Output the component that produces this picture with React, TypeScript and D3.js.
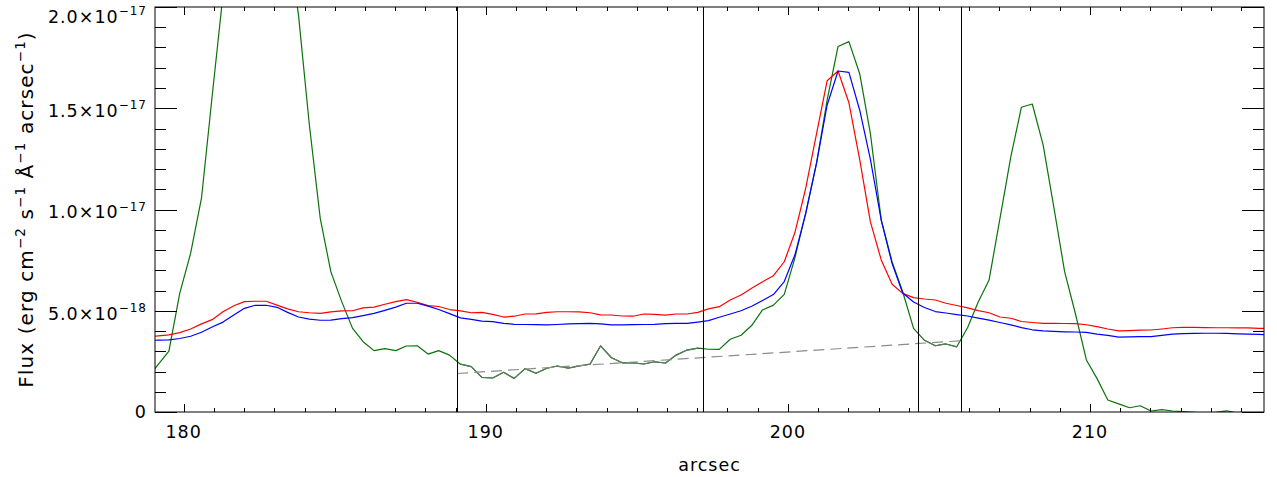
import React from 'react';
import * as d3 from 'd3';

// slit positions (arcsec) - common sampling for all three profiles
const xArcsec = [
  178.80, 179.16, 179.51, 179.87, 180.23, 180.59, 180.94, 181.30, 181.66, 182.01,
  182.37, 182.73, 183.09, 183.44, 183.80, 184.16, 184.52, 184.87, 185.23, 185.59,
  185.94, 186.30, 186.66, 187.02, 187.37, 187.73, 188.09, 188.44, 188.80, 189.16,
  189.52, 189.87, 190.23, 190.59, 190.94, 191.30, 191.66, 192.02, 192.37, 192.73,
  193.09, 193.45, 193.80, 194.16, 194.52, 194.87, 195.23, 195.59, 195.95, 196.30,
  196.66, 197.02, 197.37, 197.73, 198.09, 198.45, 198.80, 199.16, 199.52, 199.88,
  200.23, 200.59, 200.95, 201.30, 201.66, 202.02, 202.38, 202.73, 203.09, 203.45,
  203.80, 204.16, 204.52, 204.88, 205.23, 205.59, 205.95, 206.30, 206.66, 207.02,
  207.38, 207.73, 208.09, 208.45, 208.80, 209.16, 209.52, 209.88, 210.23, 210.59,
  210.95, 211.31, 211.66, 212.02, 212.38, 212.73, 213.09, 213.45, 213.81, 214.16,
  214.52, 214.88, 215.23, 215.59, 215.95,
];

// flux in units of 1e-18 erg cm^-2 s^-1 A^-1 arcsec^-1
const redFlux = [
  3.70, 3.76, 3.81, 3.92, 4.10, 4.35, 4.56, 4.95, 5.25, 5.45,
  5.47, 5.47, 5.28, 5.09, 4.95, 4.90, 4.87, 4.94, 4.99, 5.00,
  5.14, 5.18, 5.32, 5.45, 5.55, 5.42, 5.25, 5.21, 5.06, 4.99,
  4.90, 4.92, 4.82, 4.69, 4.73, 4.84, 4.85, 4.92, 4.95, 4.95,
  4.94, 4.90, 4.80, 4.79, 4.74, 4.73, 4.84, 4.82, 4.78, 4.84,
  4.84, 4.92, 5.09, 5.20, 5.53, 5.78, 6.11, 6.43, 6.73, 7.42,
  8.85, 11.05, 13.76, 16.36, 16.84, 15.27, 12.44, 9.40, 7.51, 6.31,
  5.86, 5.65, 5.58, 5.53, 5.37, 5.26, 5.14, 5.01, 4.90, 4.69,
  4.63, 4.47, 4.42, 4.38, 4.38, 4.37, 4.36, 4.31, 4.22, 4.10,
  4.01, 4.02, 4.04, 4.05, 4.10, 4.16, 4.18, 4.18, 4.17, 4.16,
  4.16, 4.15, 4.15, 4.13, 4.12,
];

const blueFlux = [
  3.53, 3.55, 3.56, 3.63, 3.74, 3.94, 4.20, 4.44, 4.79, 5.12,
  5.27, 5.27, 5.17, 4.92, 4.69, 4.59, 4.53, 4.54, 4.61, 4.66,
  4.76, 4.87, 5.02, 5.18, 5.37, 5.37, 5.23, 5.06, 4.86, 4.65,
  4.57, 4.49, 4.46, 4.38, 4.33, 4.32, 4.31, 4.30, 4.32, 4.35,
  4.36, 4.38, 4.35, 4.30, 4.30, 4.31, 4.32, 4.33, 4.36, 4.38,
  4.38, 4.44, 4.51, 4.68, 4.84, 5.00, 5.22, 5.51, 5.80, 6.44,
  7.75, 9.80, 12.30, 15.16, 16.84, 16.77, 14.89, 12.49, 9.48, 7.33,
  5.88, 5.43, 5.16, 4.96, 4.89, 4.81, 4.74, 4.64, 4.54, 4.42,
  4.30, 4.17, 4.06, 4.01, 3.98, 3.96, 3.95, 3.93, 3.85, 3.78,
  3.70, 3.71, 3.72, 3.72, 3.78, 3.85, 3.87, 3.88, 3.89, 3.89,
  3.88, 3.86, 3.85, 3.83, 3.81,
];

const greenFlux = [
  1.68, 2.35, 3.01, 5.87, 7.84, 10.57, 15.57, 20.6, 26.0, 31.0,
  34.0, 33.0, 29.0, 23.5, 19.6, 14.17, 9.56, 6.93, 5.45, 4.13,
  3.47, 3.03, 3.13, 3.03, 3.26, 3.27, 2.86, 3.03, 2.81, 2.36,
  2.24, 1.71, 1.68, 1.96, 1.66, 2.14, 1.91, 2.16, 2.27, 2.17,
  2.27, 2.36, 3.27, 2.68, 2.43, 2.43, 2.37, 2.48, 2.42, 2.81,
  3.06, 3.15, 3.10, 3.09, 3.59, 3.79, 4.27, 5.04, 5.28, 5.81,
  7.60, 9.83, 12.30, 15.41, 18.05, 18.29, 16.69, 13.76, 9.48, 7.41,
  5.94, 4.13, 3.54, 3.27, 3.36, 3.22, 4.17, 5.43, 6.52, 9.56,
  12.61, 15.05, 15.21, 13.18, 10.14, 6.93, 4.84, 2.57, 1.66, 0.59,
  0.40, 0.21, 0.31, 0.05, 0.12, 0.05, 0.02, -0.02, -0.05, -0.02,
  0.06, -0.05, -0.10, -0.05, -0.05,
];

// background windows (vertical markers) and linear background fit
const markerX = [189.05, 197.2, 204.31, 205.73];
const bgWindows = [[189.05, 197.2], [204.31, 205.73]];
const bgFitX = [189.05, 205.73];
const bgFitY = [1.90, 3.52];

const xDomain = [179.05, 215.76];
const yDomain = [0, 20];
const xMajor = [180, 190, 200, 210];
const yMajor = [0, 5, 10, 15, 20];

const W = 1277;
const H = 477;
const L = 155, R = 1264, T = 7, B = 412;
const FONT = '"DejaVu Sans", sans-serif';

const fmtY = (v: number): [string, string] => {
  if (v === 0) return ['0', ''];
  const val = v * 1e-18;
  const e = Math.floor(Math.log10(val));
  const m = val / Math.pow(10, e);
  return [m.toFixed(1) + '\u00d710', '\u2212' + Math.abs(e)];
};

export default function App() {
  const x = d3.scaleLinear().domain(xDomain).range([L, R]);
  const y = d3.scaleLinear().domain(yDomain).range([B, T]);

  const pts = (ys: number[]) => xArcsec.map((xv, i) => [xv, ys[i]] as [number, number]);
  const line = d3.line<[number, number]>().x(d => x(d[0])).y(d => y(d[1]));

  const xMinor = d3.range(Math.ceil(xDomain[0]), Math.floor(xDomain[1]) + 1).filter(v => v % 10 !== 0);
  const yMinor = d3.range(1, 20).filter(v => v % 5 !== 0);

  const greenPts = pts(greenFlux);
  const overlays = bgWindows.map(([a, b]) => greenPts.filter(p => p[0] >= a && p[0] <= b));

  const px = (v: number) => Math.round(v) + 0.5;
  const tickCol = '#000';

  return (
    <svg width={W} height={H} style={{ position: 'absolute', left: 0, top: 0, background: '#fff' }}
      fontFamily={FONT}>
      <defs>
        <clipPath id="plot">
          <rect x={L} y={T} width={R - L} height={B - T} />
        </clipPath>
      </defs>

      <g clipPath="url(#plot)" fill="none" strokeWidth={1.2} strokeLinejoin="round">
        <path d={line(greenPts) || ''} stroke="#0b720b" />
        <path d={line(pts(redFlux)) || ''} stroke="#ff0000" />
        <path d={line(pts(blueFlux)) || ''} stroke="#0000ff" />
        {overlays.map((o, i) => (
          <path key={i} d={line(o) || ''} stroke="#5f7a5f" />
        ))}
        <line x1={x(bgFitX[0])} y1={y(bgFitY[0])} x2={x(bgFitX[1])} y2={y(bgFitY[1])}
          stroke="#8c8c8c" strokeDasharray="11,6" />
        {markerX.map(m => (
          <line key={m} x1={px(x(m))} x2={px(x(m))} y1={T} y2={B} stroke="#000" strokeWidth={1} />
        ))}
      </g>

      {/* frame */}
      <rect x={L} y={T} width={R - L} height={B - T} fill="none" stroke="#000" strokeWidth={1} />

      {/* x ticks bottom and top, y ticks left and right */}
      <g stroke={tickCol} strokeWidth={1}>
        {xMajor.map(v => (
          <g key={'xm' + v}>
            <line x1={px(x(v))} x2={px(x(v))} y1={B} y2={B - 8} />
            <line x1={px(x(v))} x2={px(x(v))} y1={T} y2={T + 8} />
          </g>
        ))}
        {xMinor.map(v => (
          <g key={'xn' + v}>
            <line x1={px(x(v))} x2={px(x(v))} y1={B} y2={B - 4} />
            <line x1={px(x(v))} x2={px(x(v))} y1={T} y2={T + 4} />
          </g>
        ))}
        {yMajor.map(v => (
          <g key={'ym' + v}>
            <line x1={L} x2={L + 22} y1={px(y(v))} y2={px(y(v))} />
            <line x1={R} x2={R - 22} y1={px(y(v))} y2={px(y(v))} />
          </g>
        ))}
        {yMinor.map(v => (
          <g key={'yn' + v}>
            <line x1={L} x2={L + 11} y1={px(y(v))} y2={px(y(v))} />
            <line x1={R} x2={R - 11} y1={px(y(v))} y2={px(y(v))} />
          </g>
        ))}
      </g>

      {/* x tick labels */}
      <g fontSize={17.5} letterSpacing={1} fill="#000" textAnchor="middle">
        {xMajor.map(v => (
          <text key={v} x={x(v)} y={438}>{v}</text>
        ))}
        <text x={(L + R) / 2} y={471}>arcsec</text>
      </g>

      {/* y tick labels */}
      <g fontSize={17.5} letterSpacing={1} fill="#000" textAnchor="end">
        {yMajor.map(v => {
          const [main, sup] = fmtY(v);
          if (!sup) return <text key={v} x={147} y={y(v) + 6}>{main}</text>;
          const base = Math.max(y(v) + 8.8, 22.7);
          return (
            <text key={v} x={147} y={base}>
              {main}
              <tspan dy={-7.7} fontSize={12}>{sup}</tspan>
            </text>
          );
        })}
      </g>

      {/* y title */}
      <text transform={`translate(33,${(T + B) / 2}) rotate(-90)`} textAnchor="middle"
        fontSize={20} letterSpacing={1.1} fill="#000">
        Flux (erg cm<tspan dy={-8} fontSize={13.5}>{'\u22122'}</tspan>
        <tspan dy={8}> s</tspan><tspan dy={-8} fontSize={13.5}>{'\u22121'}</tspan>
        <tspan dy={8}> Å</tspan><tspan dy={-8} fontSize={13.5}>{'\u22121'}</tspan>
        <tspan dy={8}> acrsec</tspan><tspan dy={-8} fontSize={13.5}>{'\u22121'}</tspan>
        <tspan dy={8}>)</tspan>
      </text>
    </svg>
  );
}
